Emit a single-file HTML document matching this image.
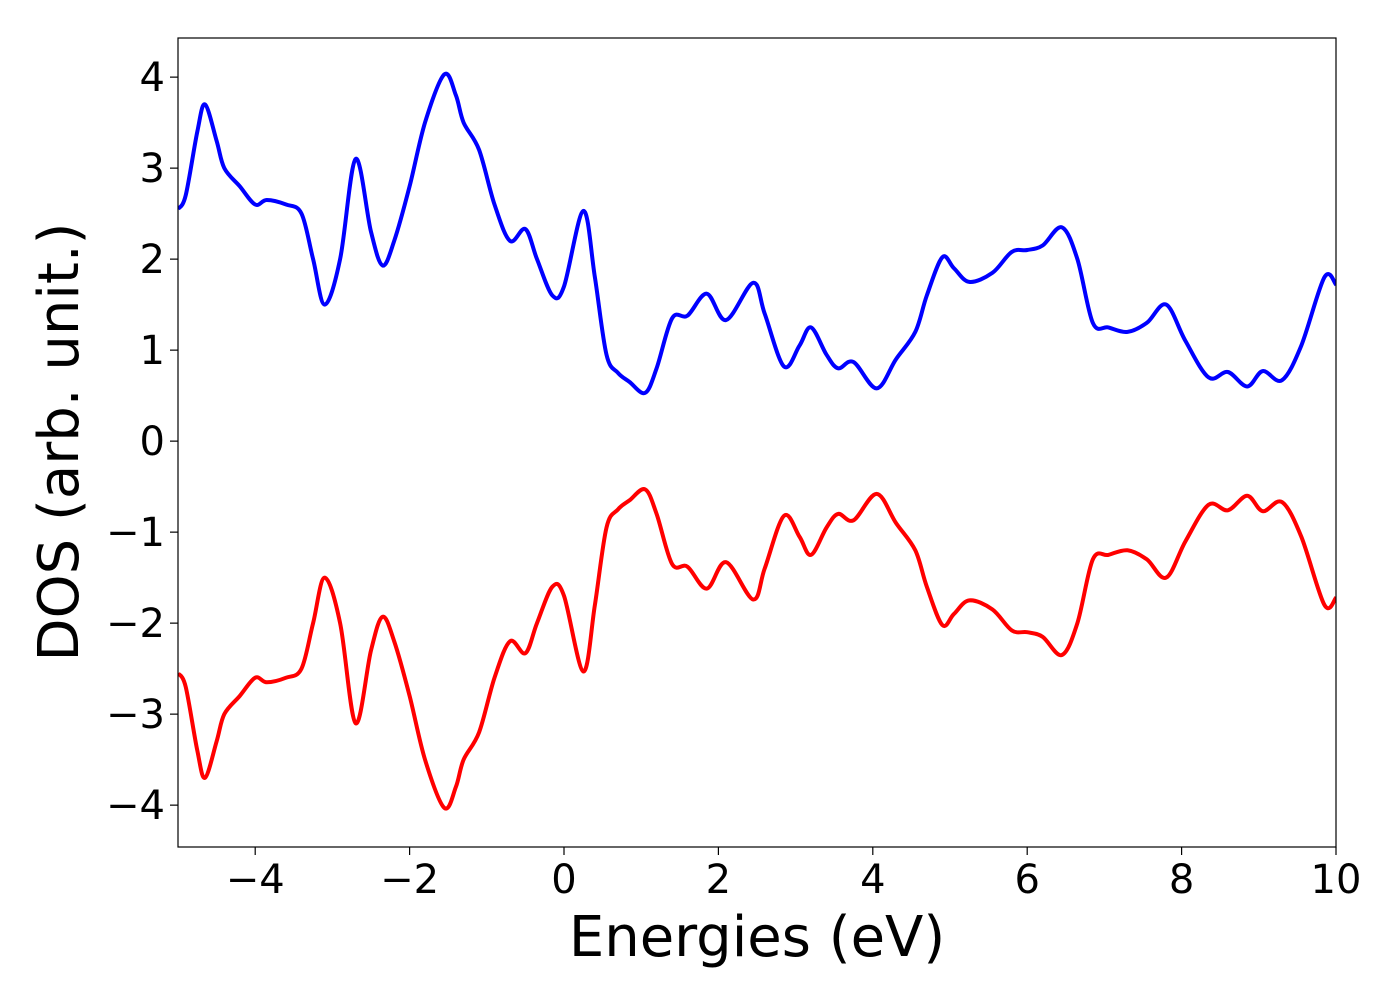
<!DOCTYPE html>
<html><head><meta charset="utf-8"><style>
html,body{margin:0;padding:0;background:#fff;}
svg{display:block;font-family:"DejaVu Sans","Liberation Sans",sans-serif;}
</style></head><body>
<svg id="chart" width="1400" height="1000" xmlns="http://www.w3.org/2000/svg">
<defs><clipPath id="clip"><rect x="178" y="38" width="1158" height="809"/></clipPath></defs>
<rect x="178" y="38" width="1158" height="809" fill="#fff"/>
<g id="series" clip-path="url(#clip)"></g>
<rect x="178" y="38" width="1158" height="809" fill="none" stroke="#000" stroke-width="1.2"/>
<g id="xticks"></g>
<g id="yticks"></g>
<text x="757" y="956" font-size="56" text-anchor="middle">Energies (eV)</text>
<text transform="translate(78,442) rotate(-90)" font-size="56" text-anchor="middle">DOS (arb. unit.)</text>
</svg>
<script>
const energies = [-5.0,-4.9,-4.75,-4.65,-4.5,-4.4,-4.2,-4.0,-3.85,-3.6,-3.4,-3.25,-3.1,-2.9,-2.7,-2.5,-2.35,-2.2,-2.0,-1.8,-1.55,-1.4,-1.3,-1.1,-0.9,-0.7,-0.5,-0.35,-0.15,0.0,0.25,0.4,0.55,0.7,0.85,1.05,1.2,1.4,1.6,1.85,2.1,2.45,2.6,2.85,3.05,3.2,3.4,3.55,3.75,4.05,4.3,4.55,4.7,4.9,5.05,5.25,5.55,5.8,6.0,6.2,6.45,6.65,6.85,7.05,7.3,7.55,7.8,8.05,8.35,8.6,8.85,9.05,9.3,9.55,9.85,10.0];
const dosUp = [2.55,2.7,3.4,3.7,3.3,3.0,2.8,2.6,2.65,2.6,2.5,2.0,1.5,2.0,3.1,2.3,1.93,2.2,2.8,3.5,4.03,3.8,3.5,3.2,2.6,2.2,2.33,2.0,1.6,1.7,2.53,1.8,0.95,0.75,0.65,0.53,0.8,1.35,1.38,1.62,1.33,1.74,1.4,0.82,1.05,1.25,0.95,0.8,0.87,0.58,0.9,1.2,1.6,2.02,1.9,1.75,1.85,2.08,2.1,2.15,2.35,2.0,1.3,1.25,1.2,1.3,1.5,1.1,0.7,0.76,0.6,0.77,0.67,1.05,1.8,1.72];
const dosDown = [-2.55,-2.7,-3.4,-3.7,-3.3,-3.0,-2.8,-2.6,-2.65,-2.6,-2.5,-2.0,-1.5,-2.0,-3.1,-2.3,-1.93,-2.2,-2.8,-3.5,-4.03,-3.8,-3.5,-3.2,-2.6,-2.2,-2.33,-2.0,-1.6,-1.7,-2.53,-1.8,-0.95,-0.75,-0.65,-0.53,-0.8,-1.35,-1.38,-1.62,-1.33,-1.74,-1.4,-0.82,-1.05,-1.25,-0.95,-0.8,-0.87,-0.58,-0.9,-1.2,-1.6,-2.02,-1.9,-1.75,-1.85,-2.08,-2.1,-2.15,-2.35,-2.0,-1.3,-1.25,-1.2,-1.3,-1.5,-1.1,-0.7,-0.76,-0.6,-0.77,-0.67,-1.05,-1.8,-1.72];
const xTickVals = [-4,-2,0,2,4,6,8,10];
const yTickVals = [-4,-3,-2,-1,0,1,2,3,4];

const NS = "http://www.w3.org/2000/svg";
const X0=178, X1=1336, Y0=38, Y1=847, XMIN=-5, XMAX=10, YMIN=-4.46, YMAX=4.43;
function sx(v){return X0+(v-XMIN)/(XMAX-XMIN)*(X1-X0);}
function sy(v){return Y1-(v-YMIN)/(YMAX-YMIN)*(Y1-Y0);}
function fmt(v){return v<0?"\u2212"+Math.abs(v):String(v);}
function pathFor(xs,ys){
  const p=xs.map((x,i)=>[sx(x),sy(ys[i])]);
  let d="M"+p[0][0].toFixed(1)+","+p[0][1].toFixed(1);
  for(let i=0;i<p.length-1;i++){
    const a=p[Math.max(i-1,0)],b=p[i],c=p[i+1],e=p[Math.min(i+2,p.length-1)];
    const c1=[b[0]+(c[0]-a[0])/6,b[1]+(c[1]-a[1])/6];
    const c2=[c[0]-(e[0]-b[0])/6,c[1]-(e[1]-b[1])/6];
    d+=" C"+c1.map(n=>n.toFixed(1))+" "+c2.map(n=>n.toFixed(1))+" "+c[0].toFixed(1)+","+c[1].toFixed(1);
  }
  return d;
}
const g=document.getElementById("series");
[[dosUp,"#0000ff","dos-spin-up-line"],[dosDown,"#ff0000","dos-spin-down-line"]].forEach(([ys,col,name])=>{
  const el=document.createElementNS(NS,"path");
  el.setAttribute("d",pathFor(energies,ys));
  el.setAttribute("fill","none");el.setAttribute("stroke",col);el.setAttribute("stroke-width","4");
  el.setAttribute("stroke-linejoin","round");
  
  
  g.appendChild(el);
});
const xg=document.getElementById("xticks");
xTickVals.forEach(v=>{
  const x=sx(v);
  const l=document.createElementNS(NS,"line");
  l.setAttribute("x1",x);l.setAttribute("x2",x);l.setAttribute("y1",Y1);l.setAttribute("y2",Y1+8);
  l.setAttribute("stroke","#000");l.setAttribute("stroke-width","1.2");
  
  
  xg.appendChild(l);
  const t=document.createElementNS(NS,"text");
  t.setAttribute("x",x);t.setAttribute("y",893);t.setAttribute("font-size","40");t.setAttribute("text-anchor","middle");
  t.textContent=fmt(v);
  
  
  xg.appendChild(t);
});
const yg=document.getElementById("yticks");
yTickVals.forEach(v=>{
  const y=sy(v);
  const l=document.createElementNS(NS,"line");
  l.setAttribute("x1",X0-8);l.setAttribute("x2",X0);l.setAttribute("y1",y);l.setAttribute("y2",y);
  l.setAttribute("stroke","#000");l.setAttribute("stroke-width","1.2");
  
  
  yg.appendChild(l);
  const t=document.createElementNS(NS,"text");
  t.setAttribute("x",165);t.setAttribute("y",y+14);t.setAttribute("font-size","40");t.setAttribute("text-anchor","end");
  t.textContent=fmt(v);
  
  
  yg.appendChild(t);
});
</script>
</body></html>
